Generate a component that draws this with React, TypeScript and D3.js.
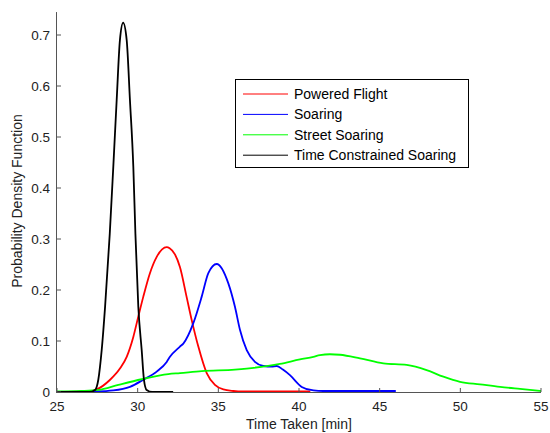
import React from "react";
import * as d3 from "d3";

const xTicks = [25, 30, 35, 40, 45, 50, 55];
const yTicks = [0, 0.1, 0.2, 0.3, 0.4, 0.5, 0.6, 0.7];

const poweredX = [25, 27, 27.46, 28.29, 28.9, 29.32, 29.73, 30.04, 30.35, 30.76, 31.18, 31.8, 31.98, 32.31, 32.62, 33.03, 33.35, 33.76, 34.28, 34.79, 35.31, 35.93, 36.5, 40.7];
const poweredY = [0, 0.001, 0.005, 0.024, 0.046, 0.069, 0.108, 0.148, 0.187, 0.233, 0.265, 0.284, 0.282, 0.27, 0.245, 0.187, 0.141, 0.089, 0.037, 0.014, 0.005, 0.002, 0.001, 0.001];

const soaringX = [25, 27.46, 28.49, 29.52, 30.35, 31.18, 31.8, 32.0, 32.62, 32.83, 33.45, 33.97, 34.38, 34.9, 35.62, 36.03, 36.34, 36.76, 37.27, 37.79, 38.3, 38.62, 39.0, 39.44, 40.17, 40.9, 41.5, 46];
const soaringY = [0, 0.001, 0.003, 0.01, 0.024, 0.04, 0.059, 0.069, 0.089, 0.095, 0.135, 0.187, 0.233, 0.251, 0.213, 0.167, 0.122, 0.082, 0.059, 0.051, 0.05, 0.051, 0.044, 0.033, 0.01, 0.003, 0.002, 0.002];

const streetX = [25, 26.5, 27.56, 28.8, 30.25, 31.9, 32.62, 33.97, 36.03, 36.76, 38.82, 40.06, 40.89, 41.3, 41.92, 42.54, 43.78, 45.23, 46.67, 47.91, 48.95, 49.98, 51.22, 52.46, 53.7, 55];
const streetY = [0.001, 0.002, 0.004, 0.014, 0.025, 0.035, 0.037, 0.041, 0.044, 0.046, 0.055, 0.064, 0.069, 0.0725, 0.074, 0.073, 0.066, 0.056, 0.053, 0.043, 0.03, 0.02, 0.015, 0.01, 0.006, 0.002];

const timeX = [25, 27.0, 27.36, 27.56, 27.77, 27.98, 28.27, 28.49, 28.7, 28.9, 29.1, 29.32, 29.52, 29.73, 29.86, 30.04, 30.25, 30.39, 30.56, 30.9, 32.2];
const timeY = [0, 0, 0.004, 0.024, 0.082, 0.167, 0.31, 0.442, 0.573, 0.69, 0.724, 0.69, 0.573, 0.442, 0.31, 0.167, 0.082, 0.024, 0.004, 0, 0];

const seriesNames = ["Powered Flight", "Soaring", "Street Soaring", "Time Constrained Soaring"];
const seriesColors = ["#ff0000", "#0000ff", "#00ff00", "#000000"];

export default function App() {
  const W = 550, H = 433;
  const x = d3.scaleLinear().domain([25, 55]).range([57, 541]);
  const y = d3.scaleLinear().domain([0, 0.7]).range([392, 35]);
  const series = [
    { xs: poweredX, ys: poweredY },
    { xs: soaringX, ys: soaringY },
    { xs: streetX, ys: streetY },
    { xs: timeX, ys: timeY },
  ];
  const line = d3
    .line<[number, number]>()
    .x((d) => x(d[0]))
    .y((d) => y(d[1]))
    .curve(d3.curveMonotoneX);
  const font = "'Liberation Sans', Arial, sans-serif";
  const axisColor = "#555";
  const legX = 235, legY = 79, legW = 233, legH = 88;
  return (
    <svg
      width={W}
      height={H}
      style={{ position: "fixed", left: 0, top: 0, background: "#fff" }}
      fontFamily={font}
    >
      <rect x={0} y={0} width={W} height={H} fill="#fff" />
      {series.map((s, i) => (
        <path
          key={i}
          d={line(s.xs.map((v, j) => [v, s.ys[j]] as [number, number])) || ""}
          fill="none"
          stroke={seriesColors[i]}
          strokeWidth={1.8}
          strokeLinejoin="round"
        />
      ))}
      {/* axes */}
      <line x1={x(25)} x2={x(55)} y1={y(0) + 0.5} y2={y(0) + 0.5} stroke={axisColor} strokeWidth={1} />
      <line x1={x(25) - 0.5} x2={x(25) - 0.5} y1={y(0.745)} y2={y(0) + 1} stroke={axisColor} strokeWidth={1} />
      {xTicks.map((t) => (
        <g key={t}>
          <line x1={x(t)} x2={x(t)} y1={y(0)} y2={y(0) - 4} stroke={axisColor} />
          <text x={x(t)} y={411} textAnchor="middle" fontSize={13.5} fill="#222">
            {t}
          </text>
        </g>
      ))}
      {yTicks.map((t) => (
        <g key={t}>
          <line x1={x(25)} x2={x(25) + 4} y1={y(t)} y2={y(t)} stroke={axisColor} />
          <text x={50} y={y(t) + 4.8} textAnchor="end" fontSize={13.5} fill="#222">
            {t === 0 ? "0" : t.toFixed(1)}
          </text>
        </g>
      ))}
      <text x={299} y={429} textAnchor="middle" fontSize={14} fill="#222">
        Time Taken [min]
      </text>
      <text
        transform={`translate(22, 201) rotate(-90)`}
        textAnchor="middle"
        fontSize={14}
        fill="#222"
      >
        Probability Density Function
      </text>
      {/* legend */}
      <rect x={legX + 0.5} y={legY + 0.5} width={legW} height={legH} fill="#fff" stroke="#000" strokeWidth={1} />
      {seriesNames.map((n, i) => (
        <g key={n}>
          <line
            x1={243}
            x2={288}
            y1={94 + i * 20.4}
            y2={94 + i * 20.4}
            stroke={seriesColors[i]}
            strokeWidth={1}
          />
          <text x={294} y={99 + i * 20.4} fontSize={14} fill="#000">
            {n}
          </text>
        </g>
      ))}
    </svg>
  );
}
